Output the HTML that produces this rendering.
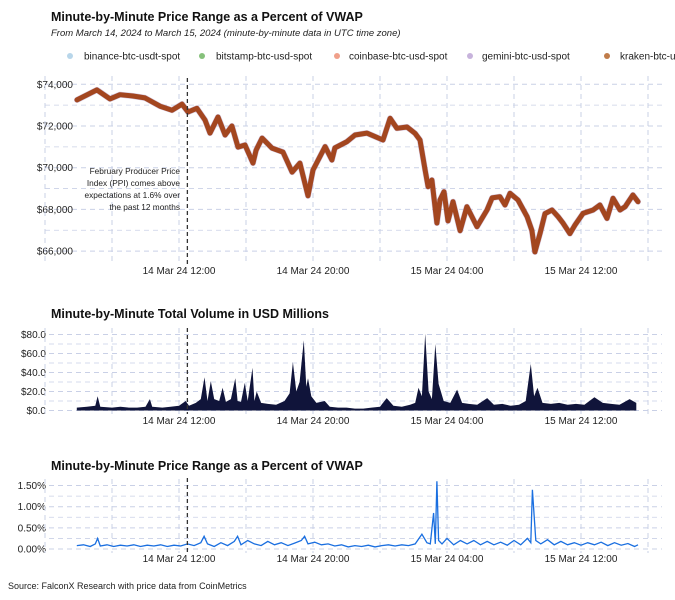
<!DOCTYPE html>
<html><head><meta charset="utf-8">
<style>
body{margin:0;background:#fff;}
svg{display:block;font-family:"Liberation Sans",Arial,sans-serif;}
</style></head>
<body>
<svg id="c" width="675" height="600" viewBox="0 0 675 600">
<text x="51" y="21" font-size="12.5" font-weight="bold" fill="#111">Minute-by-Minute Price Range as a Percent of VWAP</text>
<text x="51" y="36" font-size="9.5" font-style="italic" fill="#222">From March 14, 2024 to March 15, 2024 (minute-by-minute data in UTC time zone)</text>
<g font-size="10" fill="#222">
<circle cx="70" cy="56" r="3" fill="#b8d6ea"/><text x="84" y="59.5">binance-btc-usdt-spot</text>
<circle cx="202" cy="56" r="3" fill="#86c17b"/><text x="216" y="59.5">bitstamp-btc-usd-spot</text>
<circle cx="337" cy="56" r="3" fill="#f0a08a"/><text x="349" y="59.5">coinbase-btc-usd-spot</text>
<circle cx="470" cy="56" r="3" fill="#c7b3dc"/><text x="482" y="59.5">gemini-btc-usd-spot</text>
<circle cx="607" cy="56" r="3" fill="#c07c4a"/><text x="620" y="59.5">kraken-btc-usd-</text>
</g>
<text x="51" y="318" font-size="12.5" font-weight="bold" fill="#111">Minute-by-Minute Total Volume in USD Millions</text>
<text x="51" y="470" font-size="12.5" font-weight="bold" fill="#111">Minute-by-Minute Price Range as a Percent of VWAP</text>
<text x="8" y="589" font-size="9" fill="#222">Source: FalconX Research with price data from CoinMetrics</text>
</svg>
<script>
const priceT=[5.91,7.10,7.88,8.48,9.25,9.97,10.87,11.58,12.18,12.54,13.07,13.55,13.85,14.33,14.75,15.16,15.52,15.94,16.42,16.60,16.96,17.55,18.21,18.75,19.22,19.70,20.00,20.72,21.13,21.31,22.03,22.51,23.22,24.18,24.60,25.01,25.61,26.09,26.39,26.69,26.87,27.10,27.40,27.58,27.82,28.06,28.36,28.78,29.19,29.79,30.39,30.69,31.16,31.46,31.76,32.24,32.78,33.07,33.25,33.55,33.85,34.27,34.63,34.93,35.34,35.64,36.12,36.72,37.13,37.55,37.91,38.33,38.63,39.10,39.40];
const priceV=[73250,73730,73300,73500,73440,73350,72950,72760,73050,72670,72850,72290,71660,72430,71570,72000,70990,71090,70220,70840,71420,70940,70750,69790,70220,68650,69890,71010,70370,70950,71250,71570,71660,71330,72370,71890,71950,71650,71330,69890,69090,69410,67350,68450,68850,67450,68370,66980,68130,67170,67970,68550,68610,68210,68770,68450,67650,66990,65960,66840,67800,67970,67650,67340,66840,67250,67810,67970,68210,67570,68530,67970,68130,68690,68370];
const priceTicks=[66000,68000,70000,72000,74000];
const priceTickLabels=["$66,000","$68,000","$70,000","$72,000","$74,000"];
const volT=[5.9,6.5,7.0,7.14,7.3,8,8.5,9,9.5,10,10.26,10.4,11,11.5,12,12.4,12.6,13,13.3,13.52,13.7,13.9,14.1,14.4,14.6,14.8,15.1,15.36,15.5,15.7,15.93,16.1,16.39,16.5,16.64,16.9,17.3,17.8,18.3,18.6,18.8,19.0,19.2,19.45,19.6,19.7,19.9,20.2,20.7,21,21.5,22,22.5,23,23.5,24,24.4,24.8,25.3,25.8,26.1,26.3,26.5,26.7,26.9,27.1,27.3,27.5,27.8,28.2,28.6,28.9,29.3,29.8,30.4,30.8,31.3,31.8,32.3,32.7,33.0,33.2,33.4,33.7,34.2,34.7,35.2,35.7,36.2,36.8,37.3,37.8,38.3,38.9,39.3];
const volV=[3,4,5,15,4,3,4,3,3,4,12,4,3,4,5,10,5,8,12,35,10,31,12,10,24,9,12,34,10,9,29,10,45,10,20,8,7,6,10,18,51,20,30,74,25,34,15,8,10,4,3,3,2,2,3,4,13,5,4,6,8,24,15,81,20,12,70,28,10,8,22,8,7,6,13,6,7,5,6,10,49,15,24,8,7,8,6,7,6,14,8,7,6,12,8];
const volTicks=[0,20,40,60,80];
const volTickLabels=["$0.0","$20.0","$40.0","$60.0","$80.0"];
const pctT=[5.9,6.3,6.7,7.0,7.14,7.3,7.7,8.1,8.5,8.9,9.3,9.7,10.1,10.5,10.9,11.3,11.7,12.1,12.5,12.9,13.3,13.5,13.7,14.1,14.5,14.9,15.3,15.5,15.7,16.1,16.5,16.9,17.3,17.7,18.1,18.5,18.9,19.3,19.5,19.7,20.1,20.5,20.9,21.3,21.7,22.1,22.5,22.9,23.3,23.7,24.1,24.5,24.9,25.3,25.7,26.1,26.5,26.8,27.0,27.2,27.3,27.4,27.5,27.7,28.0,28.4,28.8,29.2,29.6,30.0,30.4,30.8,31.2,31.6,32.0,32.4,32.8,33.0,33.1,33.3,33.6,34.0,34.4,34.8,35.2,35.6,36.0,36.4,36.8,37.2,37.6,38.0,38.4,38.8,39.2,39.4];
const pctV=[0.08,0.1,0.06,0.12,0.25,0.07,0.1,0.06,0.09,0.07,0.1,0.06,0.09,0.07,0.1,0.06,0.09,0.07,0.12,0.08,0.15,0.3,0.12,0.06,0.15,0.08,0.18,0.3,0.1,0.2,0.12,0.08,0.18,0.1,0.15,0.08,0.14,0.2,0.3,0.12,0.16,0.1,0.12,0.07,0.1,0.05,0.08,0.06,0.09,0.05,0.08,0.1,0.07,0.1,0.08,0.12,0.35,0.15,0.12,0.85,0.12,1.6,0.2,0.12,0.25,0.1,0.2,0.12,0.2,0.1,0.18,0.1,0.16,0.09,0.2,0.1,0.25,0.15,1.4,0.2,0.12,0.22,0.1,0.18,0.1,0.15,0.09,0.15,0.1,0.16,0.08,0.15,0.09,0.13,0.06,0.1];
const pctTicks=[0,0.5,1.0,1.5];
const pctTickLabels=["0.00%","0.50%","1.00%","1.50%"];
const xTicks=[12,20,28,36];
const xTickLabels=["14 Mar 24 12:00","14 Mar 24 20:00","15 Mar 24 04:00","15 Mar 24 12:00"];
const eventT=12.5;

const NS="http://www.w3.org/2000/svg";
const svg=document.getElementById('c');
function mk(tag,attrs,parent){const e=document.createElementNS(NS,tag);for(const k in attrs)e.setAttribute(k,attrs[k]);(parent||svg).appendChild(e);return e;}
const xs=t=>179+(t-12)*16.75;
const gridMinorT=[4,8,16,24,32,40];
const grid='#c9d0e6';

function panel(name,top,bottom,gx0,ys,ticks,labels,minor,labelX,xLabelY){
  const g=mk('g',{});
  
  
  minor.forEach(v=>{const l=mk('line',{x1:gx0,x2:662,y1:ys(v),y2:ys(v),stroke:grid,'stroke-width':0.8,'stroke-dasharray':'5,4'},g);});
  ticks.forEach((v,i)=>{const l=mk('line',{x1:gx0,x2:662,y1:ys(v),y2:ys(v),stroke:grid,'stroke-width':1,'stroke-dasharray':'5,4'},g);
    const t=mk('text',{x:labelX,y:ys(v)+3.5,'text-anchor':'end','font-size':10,fill:'#222'},g);t.textContent=labels[i];});
  gridMinorT.concat(xTicks).forEach(tv=>{const l=mk('line',{x1:xs(tv),x2:xs(tv),y1:top,y2:bottom,stroke:grid,'stroke-width':1,'stroke-dasharray':'5,4'},g);});
  xTicks.forEach((tv,i)=>{const t=mk('text',{x:xs(tv),y:xLabelY,'text-anchor':'middle','font-size':10,fill:'#222'},g);t.textContent=xTickLabels[i];});
  return g;
}
// price panel
const ysP=p=>84.3+(74000-p)/1000*20.85;
const gp=panel('price',76,264,45,ysP,priceTicks,priceTickLabels,[67000,69000,71000,73000],73,274);
const ptsP=priceT.map((t,i)=>xs(t).toFixed(1)+','+ysP(priceV[i]).toFixed(1)).join(' ');
const under=mk('polyline',{points:ptsP,fill:'none',stroke:'#b49cc8','stroke-width':6,'stroke-linejoin':'round','stroke-linecap':'round',opacity:0.6},gp);


const pl=mk('polyline',{points:ptsP,fill:'none',stroke:'#a3461f','stroke-width':5,'stroke-linejoin':'round','stroke-linecap':'round'},gp);


const ev1=mk('line',{x1:xs(eventT),x2:xs(eventT),y1:78,y2:264,stroke:'#333','stroke-width':1.3,'stroke-dasharray':'4,3'},gp);


const ann=["February Producer Price","Index (PPI) comes above","expectations at 1.6% over","the past 12 months"];
ann.forEach((s,i)=>{const t=mk('text',{x:180,y:174+i*12,'text-anchor':'end','font-size':8.3,fill:'#222'},gp);t.textContent=s;});

// volume panel
const ysV=v=>410.5-v*0.95;
const gv=panel('volume',328,416,49,ysV,volTicks,volTickLabels,[10,30,50,70],46,424);
const ptsV=[xs(volT[0]).toFixed(1)+','+ysV(0)].concat(volT.map((t,i)=>xs(t).toFixed(1)+','+ysV(volV[i]).toFixed(1))).concat([xs(volT[volT.length-1]).toFixed(1)+','+ysV(0)]).join(' ');
const va=mk('polygon',{points:ptsV,fill:'#10143a'},gv);


const ev2=mk('line',{x1:xs(eventT),x2:xs(eventT),y1:328,y2:414,stroke:'#333','stroke-width':1.3,'stroke-dasharray':'4,3'},gv);



// pct panel
const ysR=v=>549-v*42.3;
const gr=panel('range',479,553,49,ysR,pctTicks,pctTickLabels,[0.25,0.75,1.25],46,562);
const ptsR=pctT.map((t,i)=>xs(t).toFixed(1)+','+ysR(pctV[i]).toFixed(1)).join(' ');
const rl=mk('polyline',{points:ptsR,fill:'none',stroke:'#1a6fe0','stroke-width':1.3},gr);


const ev3=mk('line',{x1:xs(eventT),x2:xs(eventT),y1:478,y2:553,stroke:'#333','stroke-width':1.3,'stroke-dasharray':'4,3'},gr);


</script>
</body></html>
